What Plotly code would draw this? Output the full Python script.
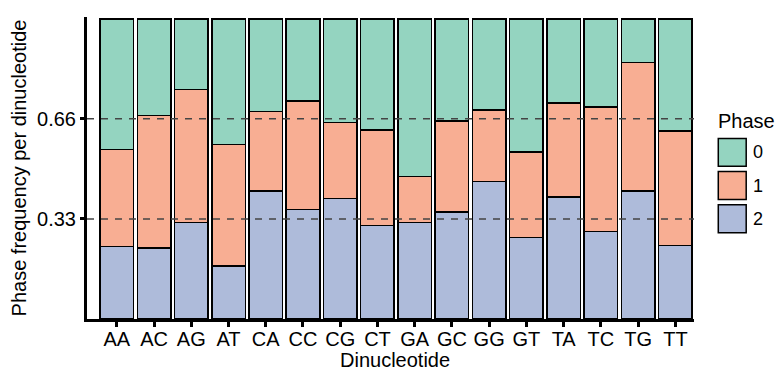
import plotly.graph_objects as go

dinucs = ["AA","AC","AG","AT","CA","CC","CG","CT","GA","GC","GG","GT","TA","TC","TG","TT"]
phase2 = [0.241,0.237,0.321,0.177,0.427,0.364,0.401,0.312,0.321,0.356,0.458,0.272,0.406,0.291,0.427,0.245]
phase1_top = [0.565,0.678,0.765,0.582,0.692,0.726,0.655,0.629,0.475,0.660,0.696,0.557,0.720,0.706,0.854,0.626]
phase1 = [round(t - b, 3) for t, b in zip(phase1_top, phase2)]
phase0 = [round(1 - t, 3) for t in phase1_top]

phase_names = ["0", "1", "2"]
colors = {"0": "#94D4C0", "1": "#F8AE93", "2": "#AEBBDA"}
ref_lines = [1/3, 2/3]
tick_text = ["0.33", "0.66"]

FONT = "Liberation Sans, Arial, Helvetica, sans-serif"

fig = go.Figure()
for name, vals in [("2", phase2), ("1", phase1), ("0", phase0)]:
    fig.add_trace(go.Bar(x=dinucs, y=vals, name=name, marker=dict(color=colors[name], line=dict(color="black", width=1.5)),
                         showlegend=False))

for v in ref_lines:
    fig.add_shape(type="line", xref="paper", x0=0, x1=1, yref="y", y0=v, y1=v,
                  line=dict(color="#444444", width=1.5, dash="7px,7px"), layer="above")

# x-axis title
fig.add_annotation(text="Dinucleotide", xref="paper", yref="paper", x=0.507, y=-0.137, xanchor="center", yanchor="middle",
                   showarrow=False, font=dict(family=FONT, size=20, color="black"))

# custom legend
fig.add_annotation(text="Phase", xref="paper", yref="paper", x=1.037, y=0.656, xanchor="left", yanchor="middle",
                   showarrow=False, font=dict(family=FONT, size=20, color="black"))
key_tops = [0.598, 0.488, 0.378]
for name, top in zip(phase_names, key_tops):
    fig.add_shape(type="rect", xref="paper", yref="paper", x0=1.040, x1=1.086, y0=top - 0.092, y1=top,
                  fillcolor=colors[name], line=dict(color="black", width=1.5))
    fig.add_annotation(text=name, xref="paper", yref="paper", x=1.094, y=top - 0.046, xanchor="left", yanchor="middle",
                       showarrow=False, font=dict(family=FONT, size=18, color="black"))

fig.update_layout(
    barmode="stack", bargap=0.1,
    width=776, height=370,
    margin=dict(l=87, r=82, t=17, b=51),
    plot_bgcolor="white", paper_bgcolor="white",
    font=dict(family=FONT, size=20, color="black"),
    xaxis=dict(range=[-0.8, 15.5], showline=True, linecolor="black", linewidth=3,
               ticks="outside", ticklen=5, tickwidth=2.5, tickcolor="black", ticklabelstandoff=-5,
               tickfont=dict(size=20), showgrid=False, zeroline=False, automargin=False),
    yaxis=dict(range=[0, 1.006], showline=True, linecolor="black", linewidth=3,
               tickvals=ref_lines, ticktext=tick_text,
               ticks="outside", ticklen=4, tickwidth=2.5, tickcolor="black",
               title=dict(text="Phase frequency per dinucleotide", font=dict(size=20), standoff=6),
               tickfont=dict(size=20), showgrid=False, zeroline=False, automargin=False),
)

fig.write_html("out.html")
